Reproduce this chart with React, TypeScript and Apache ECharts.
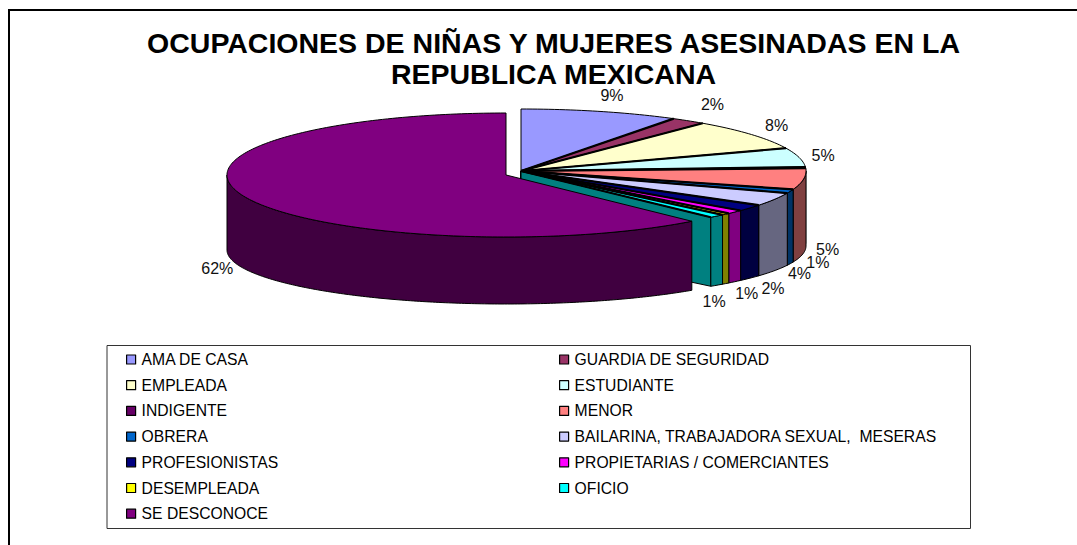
import React, { useEffect, useRef } from "react";
import * as echarts from "echarts";

const TITLE = "OCUPACIONES DE NIÑAS Y MUJERES ASESINADAS EN LA\nREPUBLICA MEXICANA";
const categories = [
  "AMA DE CASA", "GUARDIA DE SEGURIDAD", "EMPLEADA", "ESTUDIANTE", "INDIGENTE", "MENOR", "OBRERA",
  "BAILARINA, TRABAJADORA SEXUAL,  MESERAS", "PROFESIONISTAS", "PROPIETARIAS / COMERCIANTES",
  "DESEMPLEADA", "OFICIO", "SE DESCONOCE",
];
const values = [9, 2, 8, 5, 0.3, 5.5, 1, 3.5, 1.7, 1, 0.5, 0.9, 61.6];
const valueLabels = ["9%", "2%", "8%", "5%", "", "5%", "1%", "4%", "2%", "1%", "", "1%", "62%"];
const topColors = ["#9999FF", "#993366", "#FFFFCC", "#CCFFFF", "#660066", "#FF8080", "#0066CC", "#CCCCFF", "#000080", "#FF00FF", "#FFFF00", "#00FFFF", "#800080"];
const sideColors = ["#4C4C80", "#4C1933", "#808066", "#668080", "#330033", "#804040", "#003366", "#666680", "#000040", "#800080", "#808000", "#008080", "#400040"];

// layout of the tilted pie
const CX = 521, CY = 171, RX = 285, RY = 62, DEPTH = 75, RY_BOTTOM = 54;
const sliceShift: Record<number, [number, number, number]> = { 12: [-15, 4, 279] };
const labelNudge: [number, number][] = [
  [11.5, -15.5], [24, -16], [25, -9.5], [24, -1.5], [0, 0], [24, -3], [27.5, -1.6],
  [25, 2.5], [23, 10], [12, 11.6], [0, 0], [-2.6, 16], [-28, -1],
];

const total = values.reduce((a, b) => a + b, 0);
const leftCol = categories.filter((_, i) => i % 2 === 0);
const rightCol = categories.filter((_, i) => i % 2 === 1);

function renderSlice(params: any, api: any) {
  const i = params.dataIndex;
  const before = values.slice(0, i).reduce((a, b) => a + b, 0);
  const a0 = (before / total) * Math.PI * 2;
  const a1 = ((before + api.value(0)) / total) * Math.PI * 2;
  const [dx, dy, rx] = sliceShift[i] || [0, 0, RX];
  const cx = CX + dx, cy = CY + dy;
  const top = (a: number): number[] => [cx + rx * Math.sin(a), cy - RY * Math.cos(a)];
  const bot = (a: number): number[] => [cx + rx * Math.sin(a), cy + DEPTH - RY_BOTTOM * Math.cos(a)];
  const steps = Math.max(2, Math.ceil((a1 - a0) / 0.02));
  const arc = (f: (a: number) => number[], s: number, e: number) => {
    const out: number[][] = [];
    for (let k = 0; k <= steps; k++) out.push(f(s + ((e - s) * k) / steps));
    return out;
  };
  const children: any[] = [];
  const thin = { stroke: "#000", lineWidth: 1, lineJoin: "round" };

  // wall facing the next slice
  if (i < values.length - 1) {
    children.push({
      type: "polygon",
      shape: { points: [[cx, cy], top(a1), bot(a1), [cx, cy + DEPTH]] },
      style: { fill: sideColors[i], ...thin },
    });
  }
  // outer wall, only the part facing the viewer
  const sFront = Math.max(a0, Math.PI / 2);
  const eFront = Math.min(a1, (Math.PI * 3) / 2);
  if (eFront > sFront) {
    children.push({
      type: "polygon",
      shape: { points: [...arc(top, sFront, eFront), ...arc(bot, sFront, eFront).reverse()] },
      style: { fill: sideColors[i], ...thin },
    });
  }
  // top face
  children.push({
    type: "polygon",
    shape: { points: [[cx, cy], ...arc(top, a0, a1)] },
    style: { fill: topColors[i], ...thin },
  });
  // heavy spokes between the slices
  if (i > 0 && i < values.length - 1) {
    children.push({ type: "polyline", shape: { points: [[cx, cy], top(a0)] }, style: { stroke: "#000", lineWidth: 2.2, fill: null } });
  }
  if (i === values.length - 2) {
    children.push({ type: "polyline", shape: { points: [[cx, cy], top(a1)] }, style: { stroke: "#000", lineWidth: 2.2, fill: null } });
  }
  // percentage label
  if (valueLabels[i]) {
    const mid = (a0 + a1) / 2;
    const anchor = Math.cos(mid) >= 0 ? top(mid) : bot(mid);
    children.push({
      type: "text",
      z2: 100,
      style: {
        text: valueLabels[i],
        x: anchor[0] + labelNudge[i][0],
        y: anchor[1] + labelNudge[i][1],
        fill: "#111",
        font: "16px 'Liberation Sans', Arial, sans-serif",
        align: "center",
        verticalAlign: "middle",
      },
    });
  }
  return { type: "group", children };
}

const legendBase = {
  orient: "vertical" as const,
  top: 351.5,
  itemWidth: 9,
  itemHeight: 9,
  itemGap: 9.7,
  icon: "rect",
  selectedMode: false,
  padding: 0,
  itemStyle: { borderColor: "#000", borderWidth: 1.2 },
  textStyle: { color: "#000", fontFamily: "'Liberation Sans', Arial, sans-serif", fontSize: 15.7, padding: [0, 0, 0, 1], height: 15, lineHeight: 15 },
};

export default function App() {
  const ref = useRef<HTMLDivElement>(null);
  useEffect(() => {
    const chart = echarts.init(ref.current!, null, { renderer: "svg" });
    chart.setOption({
      animation: false,
      backgroundColor: "#fff",
      title: {
        text: TITLE,
        left: 548.5,
        top: 22,
        textAlign: "center",
        textStyle: { fontFamily: "'Liberation Sans', Arial, sans-serif", fontWeight: "bold", fontSize: 28.5, lineHeight: 31, color: "#000" },
      },
      legend: [
        { ...legendBase, left: 126, data: leftCol },
        { ...legendBase, left: 559, data: rightCol },
      ],
      graphic: [
        { type: "polyline", silent: true, shape: { points: [[9, 545], [9, 10], [1077, 10]] }, style: { stroke: "#000", lineWidth: 2, fill: null } },
        { type: "rect", silent: true, shape: { x: 107, y: 345.5, width: 863.5, height: 183 }, style: { stroke: "#333", lineWidth: 1, fill: null } },
      ],
      series: [
        {
          type: "custom",
          coordinateSystem: "none",
          silent: true,
          renderItem: renderSlice,
          data: values.map((v) => [v]),
          clip: false,
        },
        {
          // carries the legend entries; has no size of its own
          type: "pie",
          silent: true,
          radius: [0, 0],
          center: [-50, -50],
          label: { show: false },
          labelLine: { show: false },
          data: categories.map((name, i) => ({ name, value: values[i], itemStyle: { color: topColors[i] } })),
        },
      ],
    });
    return () => chart.dispose();
  }, []);
  return <div ref={ref} style={{ position: "absolute", left: 0, top: 0, width: 1077, height: 545 }} />;
}
